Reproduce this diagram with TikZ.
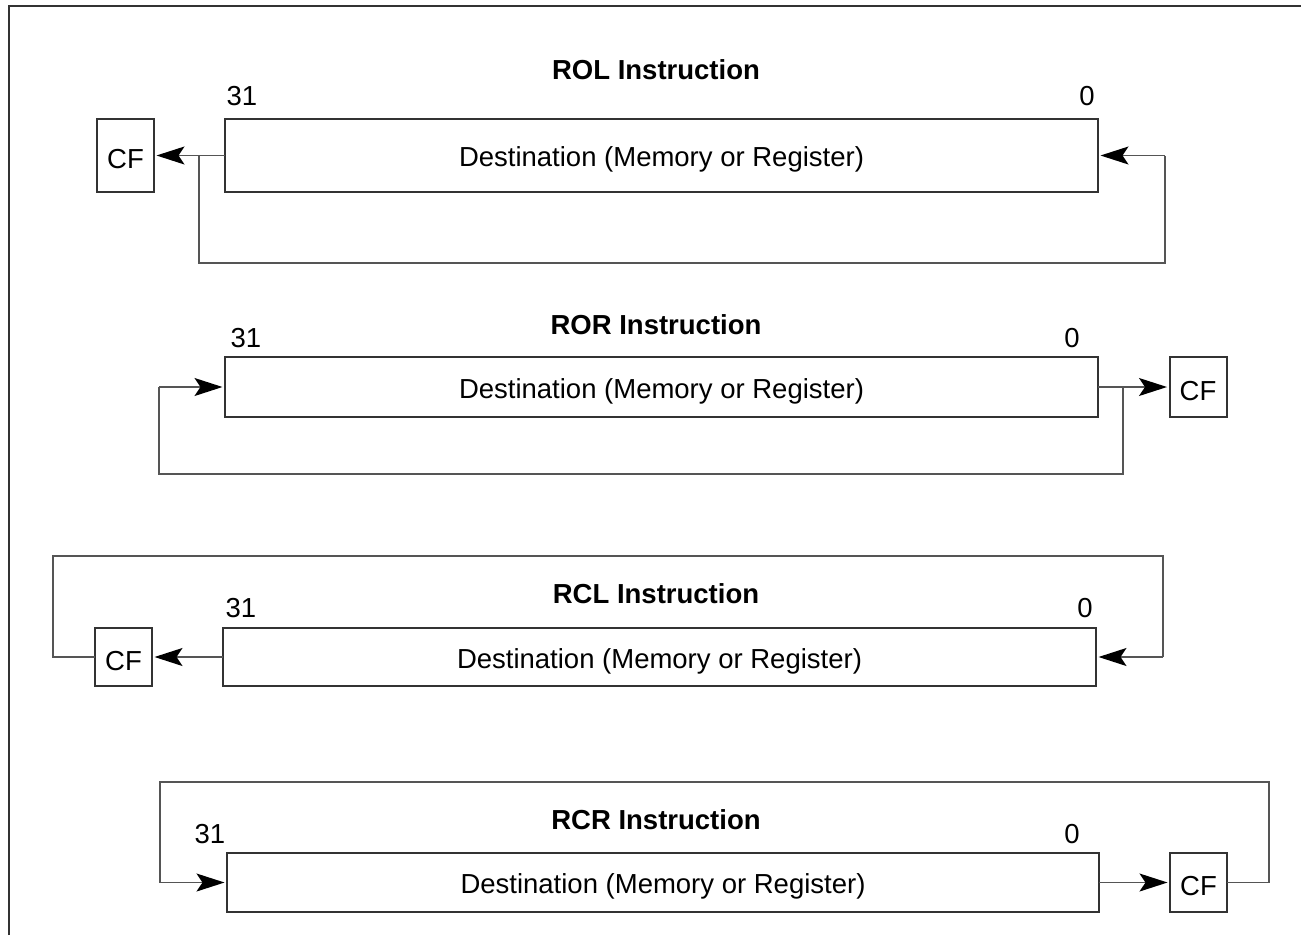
\documentclass[tikz,border=0pt]{standalone}
\usepackage{fontspec}
\setmainfont{Liberation Sans}
\usetikzlibrary{arrows.meta}
\definecolor{boxline}{HTML}{333333}
\definecolor{connline}{HTML}{555555}
\newcommand{\lowtext}[1]{\raisebox{-4pt}[\height][\depth]{#1}}
\tikzset{
  regbox/.style={draw=boxline, line width=2pt, minimum height=#1, inner sep=0pt, outer sep=0pt, font=\fontsize{27.5}{32}\selectfont},
  cfbox/.style={draw=boxline, line width=2pt, minimum width=57pt, minimum height=#1, inner sep=0pt, outer sep=0pt, font=\fontsize{27.5}{32}\selectfont},
  conn/.style={draw=connline, line width=1.4pt},
  arr/.style={conn, -{Stealth[length=28pt, width=18pt, inset=6pt, black]}, shorten >=2.5pt},
  title/.style={font=\fontsize{27.5}{32}\selectfont\bfseries, inner sep=0pt},
  bitlbl/.style={font=\fontsize{27.5}{32}\selectfont, inner sep=0pt}
}
\begin{document}
\begin{tikzpicture}[x=1pt, y=-1pt]
\useasboundingbox (0,0) rectangle (1301,935);
\draw[draw=boxline, line width=2.2pt] (9,935) -- (9,6) -- (1301,6);

% ROL
\node[title] (rolT) at (656,70) {ROL Instruction};
\node[bitlbl] (rol31) at (242,96) {31};
\node[bitlbl] (rol0) at (1087,96) {0};
\node[regbox=73pt, minimum width=873pt] (rolD) at (661.5,155.5) {\lowtext{Destination (Memory or Register)}};
\node[cfbox=73pt] (rolCF) at (125.5,155.5) {\lowtext{CF}};
\draw[arr] (rolD.west) -- (rolCF.east);
\coordinate (rolA) at (199,155.5);
\coordinate (rolB) at (199,263);
\coordinate (rolC) at (1165,263);
\coordinate (rolE) at (1165,155.5);
\draw[conn] (rolA) -- (rolB) -- (rolC) -- (rolE);
\draw[arr] (rolE) -- (rolD.east);

% ROR
\node[title] (rorT) at (656,325) {ROR Instruction};
\node[bitlbl] (ror31) at (246,338) {31};
\node[bitlbl] (ror0) at (1072,338) {0};
\node[regbox=60pt, minimum width=873pt] (rorD) at (661.5,387) {\lowtext{Destination (Memory or Register)}};
\node[cfbox=60pt] (rorCF) at (1198,387) {\lowtext{CF}};
\draw[arr] (rorD.east) -- (rorCF.west);
\coordinate (rorA) at (1123,387);
\coordinate (rorB) at (1123,474);
\coordinate (rorC) at (159,474);
\coordinate (rorE) at (159,387);
\draw[conn] (rorA) -- (rorB) -- (rorC) -- (rorE);
\draw[arr] (rorE) -- (rorD.west);

% RCL
\node[title] (rclT) at (656,594) {RCL Instruction};
\node[bitlbl] (rcl31) at (241,608) {31};
\node[bitlbl] (rcl0) at (1085,608) {0};
\node[regbox=58pt, minimum width=873pt] (rclD) at (659.5,657) {\lowtext{Destination (Memory or Register)}};
\node[cfbox=58pt] (rclCF) at (123.5,657) {\lowtext{CF}};
\draw[arr] (rclD.west) -- (rclCF.east);
\coordinate (rclB) at (53,657);
\coordinate (rclC) at (53,556);
\coordinate (rclE) at (1163,556);
\coordinate (rclF) at (1163,657);
\draw[conn] (rclCF.west) -- (rclB) -- (rclC) -- (rclE) -- (rclF);
\draw[arr] (rclF) -- (rclD.east);

% RCR
\node[title] (rcrT) at (656,820) {RCR Instruction};
\node[bitlbl] (rcr31) at (210,834) {31};
\node[bitlbl] (rcr0) at (1072,834) {0};
\node[regbox=59pt, minimum width=872pt] (rcrD) at (663,882.5) {\lowtext{Destination (Memory or Register)}};
\node[cfbox=59pt] (rcrCF) at (1198.5,882.5) {\lowtext{CF}};
\draw[arr] (rcrD.east) -- (rcrCF.west);
\coordinate (rcrB) at (1269,882.5);
\coordinate (rcrC) at (1269,782);
\coordinate (rcrE) at (160,782);
\coordinate (rcrF) at (160,882.5);
\draw[conn] (rcrCF.east) -- (rcrB) -- (rcrC) -- (rcrE) -- (rcrF);
\draw[arr] (rcrF) -- (rcrD.west);
\end{tikzpicture}
\end{document}
